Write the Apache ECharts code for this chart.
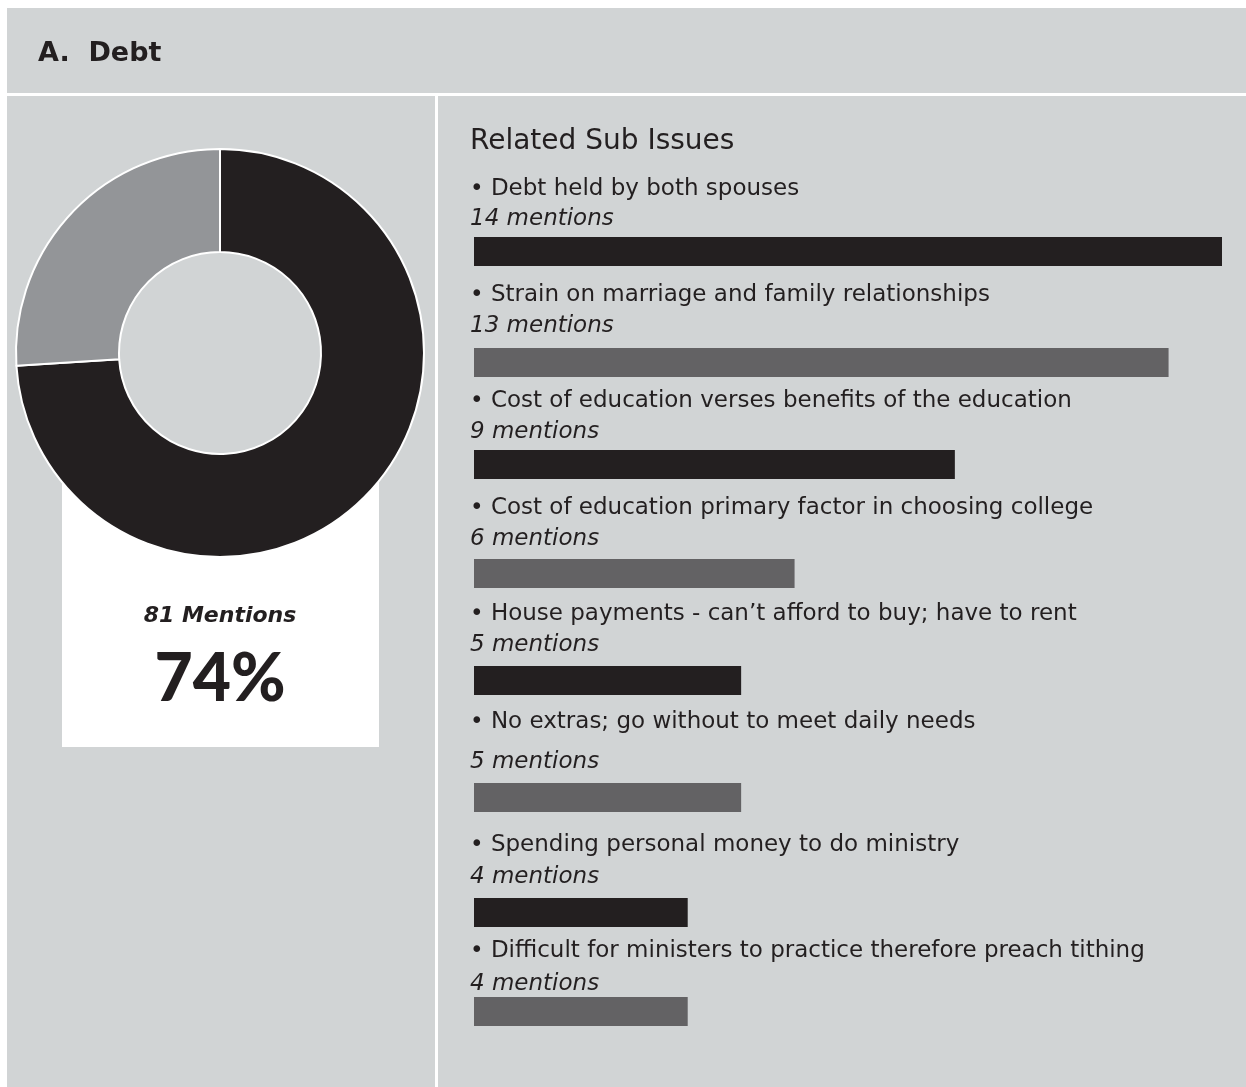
<!DOCTYPE html>
<html>
<head>
<meta charset="utf-8">
<script src="https://cdn.jsdelivr.net/npm/echarts@6/dist/echarts.min.js"></script>
<style>html,body{margin:0;padding:0;background:#fff}#c{width:1246px;height:1087px}</style>
</head>
<body>
<div id="c"></div>
<script>
// ---- data ----
const panelTitle = 'A.  Debt';
const subTitle = 'Related Sub Issues';
const donutLabels = ['Debt', 'Other'];
const donutPercents = [74, 26];
const totalMentions = 81;
const issues = [
  'Debt held by both spouses',
  'Strain on marriage and family relationships',
  'Cost of education verses benefits of the education',
  'Cost of education primary factor in choosing college',
  'House payments - can\u2019t afford to buy; have to rent',
  'No extras; go without to meet daily needs',
  'Spending personal money to do ministry',
  'Difficult for ministers to practice therefore preach tithing'
];
const mentions = [14, 13, 9, 6, 5, 5, 4, 4];
const axisMax = 14;

// ---- layout / style ----
const DARK = '#231f20', MID = '#636264', LIGHT = '#939598', BG = '#d1d4d5';
const SANS = '"DejaVu Sans", sans-serif';
const LATO = 'Lato, sans-serif';
// text is placed by its top edge; baseline ~= top + 0.8 * size
function topFor(baseline, size) { return baseline - Math.round(size * 0.8); }
const rowLabelY = [195, 301, 407, 514, 620, 728, 851, 957];   // baselines of issue text
const rowCountY = [225, 332, 438, 545, 651, 768, 883, 990];   // baselines of mentions text
const rowBarTop = [237, 348, 450, 559, 666, 783, 898, 997];
const barH = 29, barLeft = 474, barWidthPx = 748;
const ITEM = 23;

const grids = [], xAxes = [], yAxes = [], series = [];
issues.forEach((name, i) => {
  grids.push({left: barLeft, top: rowBarTop[i], width: barWidthPx, height: barH});
  xAxes.push({gridIndex: i, type: 'value', min: 0, max: axisMax, show: false});
  yAxes.push({gridIndex: i, type: 'category', data: [name], show: false});
  series.push({
    type: 'bar', xAxisIndex: i, yAxisIndex: i, barWidth: '100%',
    data: [mentions[i]], silent: true,
    itemStyle: {color: i % 2 === 0 ? DARK : MID}
  });
});

series.push({
  type: 'pie', center: [220, 353], radius: [101, 204], startAngle: 90, clockwise: true,
  silent: true, label: {show: false}, labelLine: {show: false}, z: 5,
  itemStyle: {borderColor: '#fff', borderWidth: 2},
  data: donutLabels.map((n, i) => ({name: n, value: donutPercents[i], itemStyle: {color: i === 0 ? DARK : LIGHT}}))
});

const texts = [];
issues.forEach((name, i) => {
  texts.push({type: 'text', z: 100, x: 470, y: topFor(rowLabelY[i], ITEM) + 1, style: {text: '\u2022 ' + name, fill: DARK, font: ITEM + 'px ' + SANS, textVerticalAlign: 'top'}});
  texts.push({type: 'text', z: 100, x: 470, y: topFor(rowCountY[i], ITEM) + 1, style: {text: mentions[i] + ' mentions', fill: DARK, font: 'italic ' + ITEM + 'px ' + SANS, textVerticalAlign: 'top'}});
});

const chart = echarts.init(document.getElementById('c'), null, {renderer: 'canvas'});
chart.setOption({
  backgroundColor: '#ffffff',
  animation: false,
  grid: grids, xAxis: xAxes, yAxis: yAxes,
  series: series,
  graphic: [
    {type: 'rect', z: -10, shape: {x: 7, y: 8, width: 1239, height: 1079}, style: {fill: BG}},
    {type: 'rect', z: -9, shape: {x: 7, y: 93, width: 1239, height: 3}, style: {fill: '#fff'}},
    {type: 'rect', z: -9, shape: {x: 435, y: 96, width: 3, height: 991}, style: {fill: '#fff'}},
    {type: 'rect', z: -9, shape: {x: 62, y: 470, width: 317, height: 277}, style: {fill: '#fff'}},
    {type: 'text', z: 100, x: 38, y: topFor(63, 27) - 1, style: {text: panelTitle, fill: DARK, font: 'bold 27px ' + SANS, textVerticalAlign: 'top'}},
    {type: 'text', z: 100, x: 470, y: topFor(152, 28) - 2, style: {text: subTitle, fill: DARK, font: '28px ' + SANS, textVerticalAlign: 'top'}},
    {type: 'text', z: 100, x: 220, y: topFor(623, 22), style: {text: totalMentions + ' Mentions', fill: DARK, font: 'italic bold 22px ' + SANS, textAlign: 'center', textVerticalAlign: 'top'}},
    {type: 'text', z: 100, x: 220, y: topFor(700, 66), style: {text: donutPercents[0] + '%', fill: DARK, font: '900 66px ' + LATO, textAlign: 'center', textVerticalAlign: 'top'}}
  ].concat(texts)
});
</script>
</body>
</html>
